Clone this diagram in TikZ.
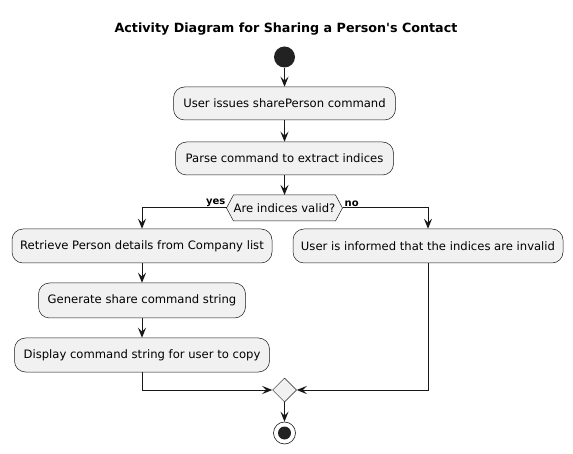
\documentclass[tikz,border=0pt]{standalone}
\usepackage{fontspec}
\setmainfont{DejaVu Sans}
\usetikzlibrary{arrows.meta,calc,shapes.geometric}
\definecolor{boxfill}{HTML}{F1F1F1}
\definecolor{lineclr}{HTML}{181818}
\definecolor{dotclr}{HTML}{222222}
\begin{document}
\begin{tikzpicture}[x=1pt,y=-1pt,
  act/.style={draw=lineclr,line width=0.5pt,fill=boxfill,rounded corners=11pt,
    minimum height=34pt,inner sep=0pt,font=\fontsize{11.6}{13}\selectfont},
  flow/.style={draw=lineclr,line width=1pt,-{Stealth[length=10pt,width=8pt,inset=4pt]}},
  lbl/.style={font=\bfseries\fontsize{10}{12}\selectfont,inner sep=0pt}]
\useasboundingbox (0,0) rectangle (573,454);
\node[font=\bfseries\fontsize{12.7}{15}\selectfont] (title) at (286,29) {Activity Diagram for Sharing a Person\textquotesingle s Contact};
\node[circle,fill=dotclr,minimum size=21pt,inner sep=0pt] (start) at (284.5,57) {};
\node[act,minimum width=222pt,minimum height=33pt] (b1) at (284.5,103.5) {User issues sharePerson command};
\node[act,minimum width=218pt,minimum height=33pt] (b2) at (284.5,158.5) {Parse command to extract indices};
% decision hexagon
\coordinate (dc) at (284.5,208);
\draw[draw=lineclr,line width=0.5pt,fill=boxfill]
  ($(dc)+(-58,0)$) -- ($(dc)+(-51,-13)$) -- ($(dc)+(51,-13)$) -- ($(dc)+(58,0)$)
  -- ($(dc)+(51,13)$) -- ($(dc)+(-51,13)$) -- cycle;
\node[font=\fontsize{11.6}{13}\selectfont,inner sep=0pt] (dec) at (dc) {Are indices valid?};
\coordinate (decw) at ($(dc)+(-58,0)$);
\coordinate (dece) at ($(dc)+(58,0)$);
\coordinate (decn) at ($(dc)+(0,-13)$);
\node[lbl,anchor=south east] (yes) at ($(decw)+(-1,-1)$) {yes};
\node[lbl,anchor=south west] (no) at ($(dece)+(2,-1)$) {no};
\node[act,minimum width=260pt] (b3) at (142,246) {Retrieve Person details from Company list};
\node[act,minimum width=270pt] (bR) at (428,246) {User is informed that the indices are invalid};
\node[act,minimum width=207pt,minimum height=35pt] (b4) at (142,300.5) {Generate share command string};
\node[act,minimum width=255pt] (b5) at (142,355) {Display command string for user to copy};
\node[diamond,draw=lineclr,line width=0.5pt,fill=boxfill,minimum width=24pt,minimum height=24pt,inner sep=0pt] (merge) at (284.5,390) {};
\node[circle,draw=lineclr,line width=0.6pt,fill=white,minimum size=22pt,inner sep=0pt] (end) at (284.5,433) {};
\node[circle,fill=dotclr,minimum size=13pt,inner sep=0pt] (endin) at (end) {};
% connectors
\draw[flow] (start) -- (b1);
\draw[flow] (b1) -- (b2);
\draw[flow] (b2) -- (decn);
\draw[flow] (decw) -| (b3.north);
\draw[flow] (dece) -| (bR.north);
\draw[flow] (b3) -- (b4);
\draw[flow] (b4) -- (b5);
\draw[flow] (b5.south) |- (merge.west);
\draw[flow] (bR.south) |- (merge.east);
\draw[flow] (merge) -- (end);
\end{tikzpicture}
\end{document}
